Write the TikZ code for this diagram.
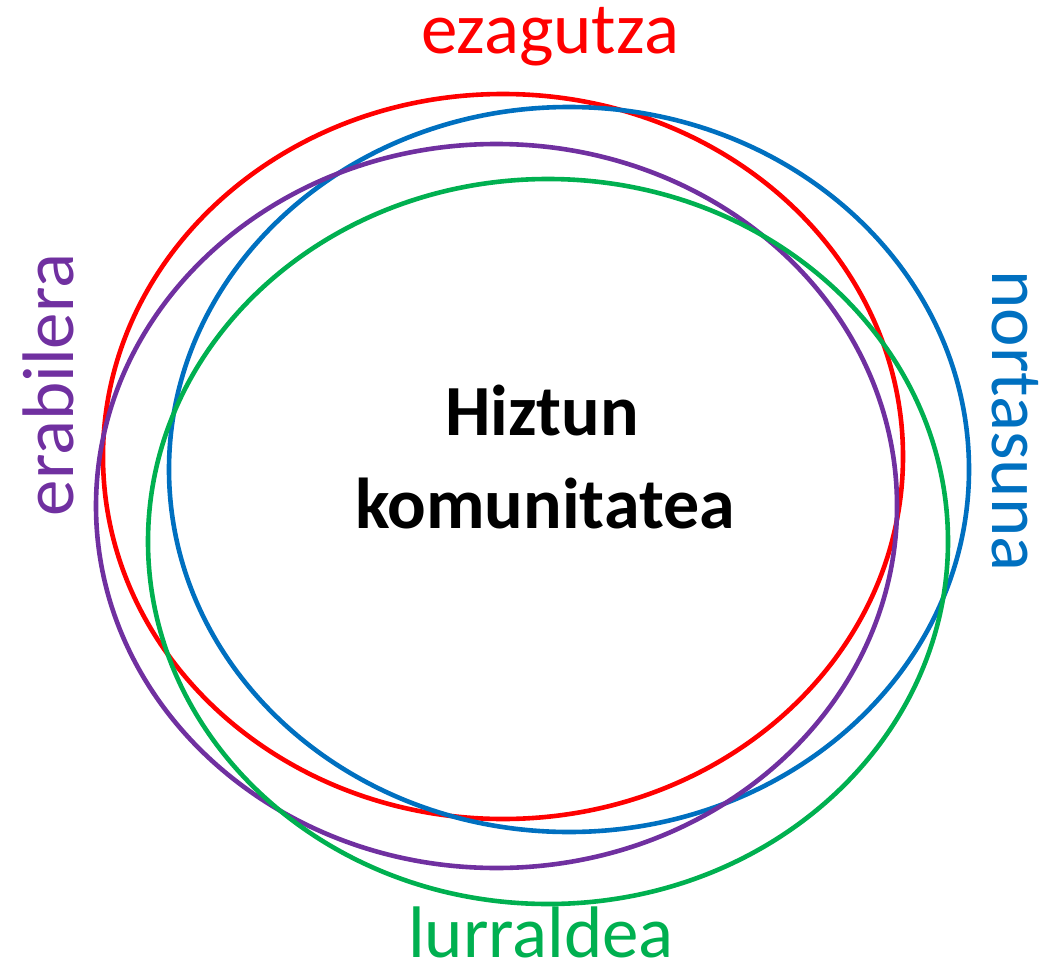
\documentclass[tikz,border=0pt]{standalone}
\usepackage{fontspec}
\setmainfont{Carlito}
\definecolor{ored}{HTML}{FF0000}
\definecolor{oblue}{HTML}{0070C0}
\definecolor{opurple}{HTML}{7030A0}
\definecolor{ogreen}{HTML}{00B050}
\tikzset{
  ring/.style={line width=4.6pt},
  biglabel/.style={inner sep=0pt, anchor=base, font=\fontsize{73}{88}\selectfont},
}
\begin{document}
\begin{tikzpicture}[x=1pt,y=-1pt]
\useasboundingbox (0,0) rectangle (1060,966);
\draw[ring, ored] (503,456.5) ellipse [x radius=400pt, y radius=362.5pt];
\draw[ring, oblue] (569,469.5) ellipse [x radius=400pt, y radius=362.5pt];
\draw[ring, opurple] (496.5,506) ellipse [x radius=400.5pt, y radius=362pt];
\draw[ring, ogreen] (548,541.5) ellipse [x radius=400pt, y radius=362.5pt];
\node[biglabel, text=ored] (ezagutza) at (550,54) {ezagutza};
\node[biglabel, text=ogreen] (lurraldea) at (541,957) {lurraldea};
\node[biglabel, text=opurple, rotate=90] (erabilera) at (73,385) {erabilera};
\node[biglabel, text=oblue, rotate=-90] (nortasuna) at (992,421) {nortasuna};
\node[biglabel, font=\fontsize{72}{86}\bfseries\selectfont] (hiztun) at (542,435) {Hiztun};
\node[biglabel, font=\fontsize{72}{86}\bfseries\selectfont] (komunitatea) at (545,528) {komunitatea};
\end{tikzpicture}
\end{document}
